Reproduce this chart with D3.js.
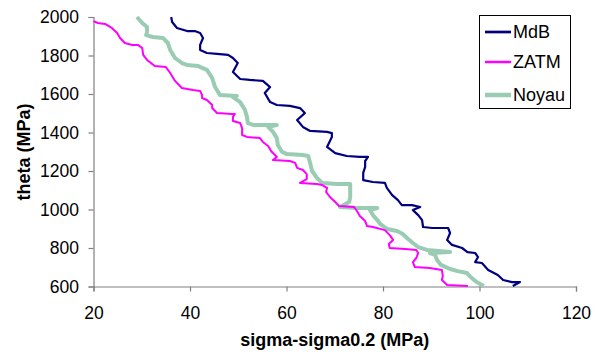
<!DOCTYPE html>
<html><head><meta charset="utf-8">
<script src="https://cdn.jsdelivr.net/npm/d3@7"></script>
<style>body{margin:0;background:#fff}svg{display:block;font-family:"Liberation Sans",Arial,sans-serif}</style>
</head><body><svg id="c" width="598" height="354"></svg>
<script>
const seriesNames = ["MdB", "ZATM", "Noyau"];
const seriesColors = ["#000080", "#FF00FF", "#99CCB2"];
const seriesWidths = [2.2, 2, 4];
const xTicks = [20, 40, 60, 80, 100, 120];
const yTicks = [600, 800, 1000, 1200, 1400, 1600, 1800, 2000];

const mdbSigma = [36.1,36.3,37.3,39.4,41.0,42.1,42.7,42.1,42.1,43.5,45.6,47.9,48.9,49.9,48.9,50.4,52.4,55.1,56.6,55.5,56.6,58.0,60.7,62.8,63.8,62.2,63.4,64.9,68.4,69.4,69.4,68.4,70.1,72.5,75.2,76.9,76.3,76.3,75.9,75.9,77.9,80.4,80.8,81.9,83.1,83.9,86.0,87.7,86.2,87.3,88.1,88.3,90.2,93.5,93.9,93.3,94.3,96.4,97.5,99.1,99.7,99.1,100.5,101.8,103.8,104.9,106.7,108.4,106.9];
const mdbTheta = [2000,1974,1943,1927,1927,1917,1891,1855,1829,1813,1808,1803,1787,1761,1714,1678,1673,1668,1636,1605,1558,1543,1538,1527,1501,1465,1429,1408,1403,1397,1377,1325,1293,1278,1273,1273,1252,1221,1190,1153,1143,1138,1112,1075,1049,1023,1023,1013,997,971,945,909,904,904,878,842,816,800,779,774,753,727,722,686,660,634,623,623,603];

const zatmSigma = [20.0,20.9,22.4,23.8,24.9,25.5,26.5,28.0,29.2,30.1,30.3,31.1,32.7,35.0,35.9,36.9,38.3,40.6,42.1,42.5,42.5,43.5,44.6,44.6,45.6,48.7,49.3,48.9,48.9,50.4,50.8,50.8,51.8,54.5,55.1,56.2,56.8,58.0,57.2,60.7,61.8,62.2,63.4,64.2,64.2,62.8,66.3,67.4,68.4,68.2,69.0,70.1,70.9,74.0,74.6,75.2,76.3,76.7,77.9,80.4,81.4,82.1,81.2,81.4,84.6,86.9,87.3,86.9,86.2,86.6,89.7,92.2,92.4,92.2,93.3,97.6];
const zatmTheta = [1979,1969,1964,1943,1917,1891,1865,1855,1855,1839,1803,1777,1745,1740,1709,1668,1631,1621,1616,1595,1579,1569,1543,1527,1501,1496,1496,1481,1460,1449,1423,1387,1377,1371,1351,1330,1304,1273,1257,1252,1242,1216,1205,1184,1158,1138,1132,1127,1112,1091,1065,1039,1018,1013,992,966,940,914,909,893,867,842,821,800,795,790,774,748,727,701,696,686,655,634,608,603];

const noyauSigma = [29.0,30.1,31.1,31.1,30.9,32.3,34.4,35.4,35.9,36.9,38.3,39.4,41.7,43.5,44.6,45.2,46.2,49.7,48.9,50.4,51.4,51.8,52.0,53.1,58.0,56.2,57.2,58.0,58.2,59.1,60.1,63.4,64.5,64.9,65.3,66.3,67.4,70.5,73.2,73.2,73.2,73.0,71.5,71.1,74.6,78.8,77.3,77.9,79.0,79.4,80.8,82.9,84.1,85.2,86.2,87.3,89.1,93.9,89.7,90.8,91.2,92.0,93.9,95.5,97.4,98.4,99.4,100.9];
const noyauTheta = [2000,1969,1948,1922,1906,1896,1891,1865,1829,1787,1761,1751,1745,1725,1683,1636,1595,1590,1584,1558,1517,1481,1449,1439,1439,1429,1403,1371,1335,1299,1288,1283,1278,1242,1200,1164,1138,1132,1132,1112,1065,1039,1018,1013,1008,1008,997,971,940,925,899,888,873,847,826,805,790,779,774,764,738,712,691,680,670,644,623,603];

const series = [
  d3.zip(mdbSigma, mdbTheta),
  d3.zip(zatmSigma, zatmTheta),
  d3.zip(noyauSigma, noyauTheta)
];

const svg = d3.select("#c");
const m = {l: 93.5, r: 576, t: 17, b: 286.5};
const x = d3.scaleLinear().domain([20, 120]).range([m.l, m.r]);
const y = d3.scaleLinear().domain([600, 2000]).range([m.b, m.t]);
const FONT = '"Liberation Sans",Arial,sans-serif';

const xa = svg.append("g").attr("transform", `translate(0,${m.b})`)
  .call(d3.axisBottom(x).tickValues(xTicks).tickFormat(d3.format("d")).tickSize(5).tickPadding(15));
const ya = svg.append("g").attr("transform", `translate(${m.l},0)`)
  .call(d3.axisLeft(y).tickValues(yTicks).tickFormat(d3.format("d")).tickSize(5).tickPadding(9.5));
[xa, ya].forEach(a => {
  a.selectAll("path,line").attr("stroke", "#808080").attr("stroke-width", 1.2);
  a.selectAll("text").attr("font-size", 17.5).attr("fill", "#000").attr("font-family", FONT);
});

const line = d3.line().x(d => x(d[0])).y(d => y(d[1]));
[2, 1, 0].forEach(i => {
  svg.append("path").datum(series[i]).attr("d", line)
    .attr("fill", "none").attr("stroke", seriesColors[i])
    .attr("stroke-width", seriesWidths[i]).attr("stroke-linejoin", "round");
});

svg.append("text").attr("x", (m.l + m.r) / 2).attr("y", 346)
  .attr("text-anchor", "middle").attr("font-size", 18).attr("font-weight", "bold")
  .text("sigma-sigma0.2 (MPa)");
svg.append("text").attr("transform", "translate(24,152) rotate(-90)")
  .attr("text-anchor", "middle").attr("dy", "0.35em").attr("font-size", 18).attr("font-weight", "bold")
  .text("theta (MPa)");

const lg = svg.append("g");
lg.append("rect").attr("x", 479.5).attr("y", 15.5).attr("width", 91).attr("height", 93)
  .attr("fill", "#fff").attr("stroke", "#000").attr("stroke-width", 1);
const ly = [32, 62, 95];
seriesNames.forEach((n, i) => {
  lg.append("line").attr("x1", 485).attr("x2", 511).attr("y1", ly[i]).attr("y2", ly[i])
    .attr("stroke", seriesColors[i]).attr("stroke-width", seriesWidths[i] + 0.5);
  lg.append("text").attr("x", 513).attr("y", ly[i]).attr("dy", "0.36em")
    .attr("font-size", 18).text(n);
});
</script></body></html>
